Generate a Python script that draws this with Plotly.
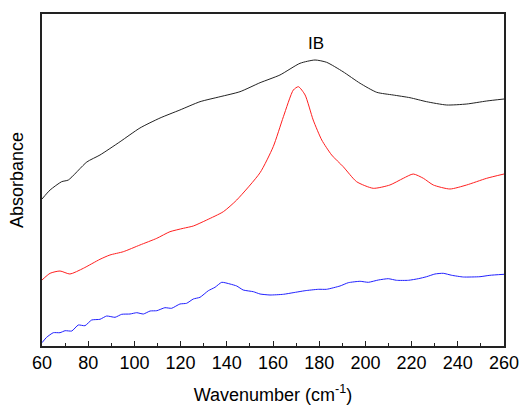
import plotly.graph_objects as go

# Wavenumber (cm-1) and absorbance (arbitrary units, offset traces)
wn_black = [60, 63.5, 68.5, 71.4, 79.4, 85.1, 93.8, 102.4, 111.1, 119.7, 128.4, 137.1, 145.7,
            154.4, 163, 171.7, 178.2, 183.2, 190.3, 197.7, 204.9, 212, 219.3, 226.5, 235.2,
            243.9, 252.5, 260]
ab_black = [1.47, 1.56, 1.643, 1.66, 1.84, 1.91, 2.043, 2.18, 2.28, 2.36, 2.443, 2.493, 2.543,
            2.633, 2.71, 2.827, 2.86, 2.837, 2.743, 2.627, 2.537, 2.51, 2.483, 2.443, 2.41,
            2.42, 2.45, 2.47]

wn_red = [60, 63.5, 67.8, 72.1, 77.9, 85.1, 89.4, 95.2, 102.4, 109.7, 115.4, 121.2, 125.5,
          131.3, 138.5, 144.3, 154.4, 160.1, 164.5, 168.8, 171, 173.9, 177.4, 181.1, 185.4,
          190.4, 196.2, 203.4, 210.6, 216.4, 220.7, 225.1, 229.4, 236.6, 243.8, 252.5, 260]
ab_red = [0.66, 0.727, 0.75, 0.72, 0.777, 0.867, 0.91, 0.943, 1.01, 1.077, 1.143, 1.177, 1.2,
          1.26, 1.343, 1.46, 1.733, 1.993, 2.293, 2.56, 2.593, 2.51, 2.26, 2.06, 1.91,
          1.793, 1.643, 1.577, 1.61, 1.677, 1.72, 1.677, 1.61, 1.57, 1.61, 1.677, 1.72]

wn_blue = [60, 62, 64.9, 67.8, 70, 72.9, 75.7, 78.6, 81.5, 85.1, 88, 91.6, 94.5, 98.1, 101,
           103.9, 106.8, 109.7, 113.2, 116.1, 119.7, 122.6, 125.5, 128.4, 132, 134.9, 137.8,
           141.4, 144.3, 147.1, 151.5, 154.4, 158.7, 164.5, 168.7, 173.9, 179.6, 183.2, 189,
           192.6, 197.7, 201.3, 205.6, 209.9, 213.5, 218.6, 222.9, 226.5, 230.1, 233.7, 237.4,
           242.4, 249.6, 253.9, 260]
ab_blue = [0.033, 0.087, 0.133, 0.133, 0.153, 0.15, 0.21, 0.203, 0.26, 0.267, 0.3, 0.287,
           0.317, 0.32, 0.333, 0.32, 0.35, 0.353, 0.383, 0.377, 0.42, 0.427, 0.47, 0.487,
           0.553, 0.587, 0.637, 0.62, 0.6, 0.56, 0.543, 0.52, 0.51, 0.517, 0.533, 0.553,
           0.567, 0.567, 0.6, 0.633, 0.647, 0.637, 0.66, 0.673, 0.657, 0.657, 0.673, 0.693,
           0.72, 0.727, 0.707, 0.69, 0.693, 0.707, 0.717]

x_ticks = [60, 80, 100, 120, 140, 160, 180, 200, 220, 240, 260]

FONT = "Liberation Sans, Arial, sans-serif"

fig = go.Figure()
fig.add_trace(go.Scatter(x=wn_black, y=ab_black, mode="lines", line=dict(color="#222222", width=1, shape="spline", smoothing=0.6)))
fig.add_trace(go.Scatter(x=wn_red, y=ab_red, mode="lines", line=dict(color="#ff2020", width=1, shape="spline", smoothing=0.6)))
fig.add_trace(go.Scatter(x=wn_blue, y=ab_blue, mode="lines", line=dict(color="#2020ff", width=1, shape="spline", smoothing=0.5)))

fig.add_annotation(x=178.5, y=3.03, text="IB", showarrow=False,
                   font=dict(family=FONT, size=17, color="black"))

fig.update_layout(
    width=519, height=405,
    margin=dict(l=42, r=15, t=14, b=59, autoexpand=False),
    paper_bgcolor="white", plot_bgcolor="white",
    showlegend=False,
    font=dict(family=FONT, size=18, color="black"),
)
fig.update_xaxes(
    range=[60, 260], tickvals=x_ticks, ticktext=[str(v) for v in x_ticks],
    ticks="inside", ticklen=5, tickwidth=1.2, tickcolor="#222",
    minor=dict(ticks="inside", ticklen=3, dtick=10, tick0=0, tickcolor="#222", tickwidth=1.2),
    showline=True, linecolor="#222", linewidth=1.5, mirror=True,
    showgrid=False, zeroline=False, automargin=False, ticklabeloverflow="allow",
    tickfont=dict(family=FONT, size=18),
    title=dict(text="Wavenumber (cm<sup>-1</sup>)", font=dict(family=FONT, size=18), standoff=16),
)
fig.update_yaxes(
    range=[0, 3.32], showticklabels=False, ticks="",
    showline=True, linecolor="#222", linewidth=1.5, mirror=True,
    showgrid=False, zeroline=False, automargin=False,
    title=dict(text="Absorbance", font=dict(family=FONT, size=18), standoff=12),
)

fig.write_html("out.html")
